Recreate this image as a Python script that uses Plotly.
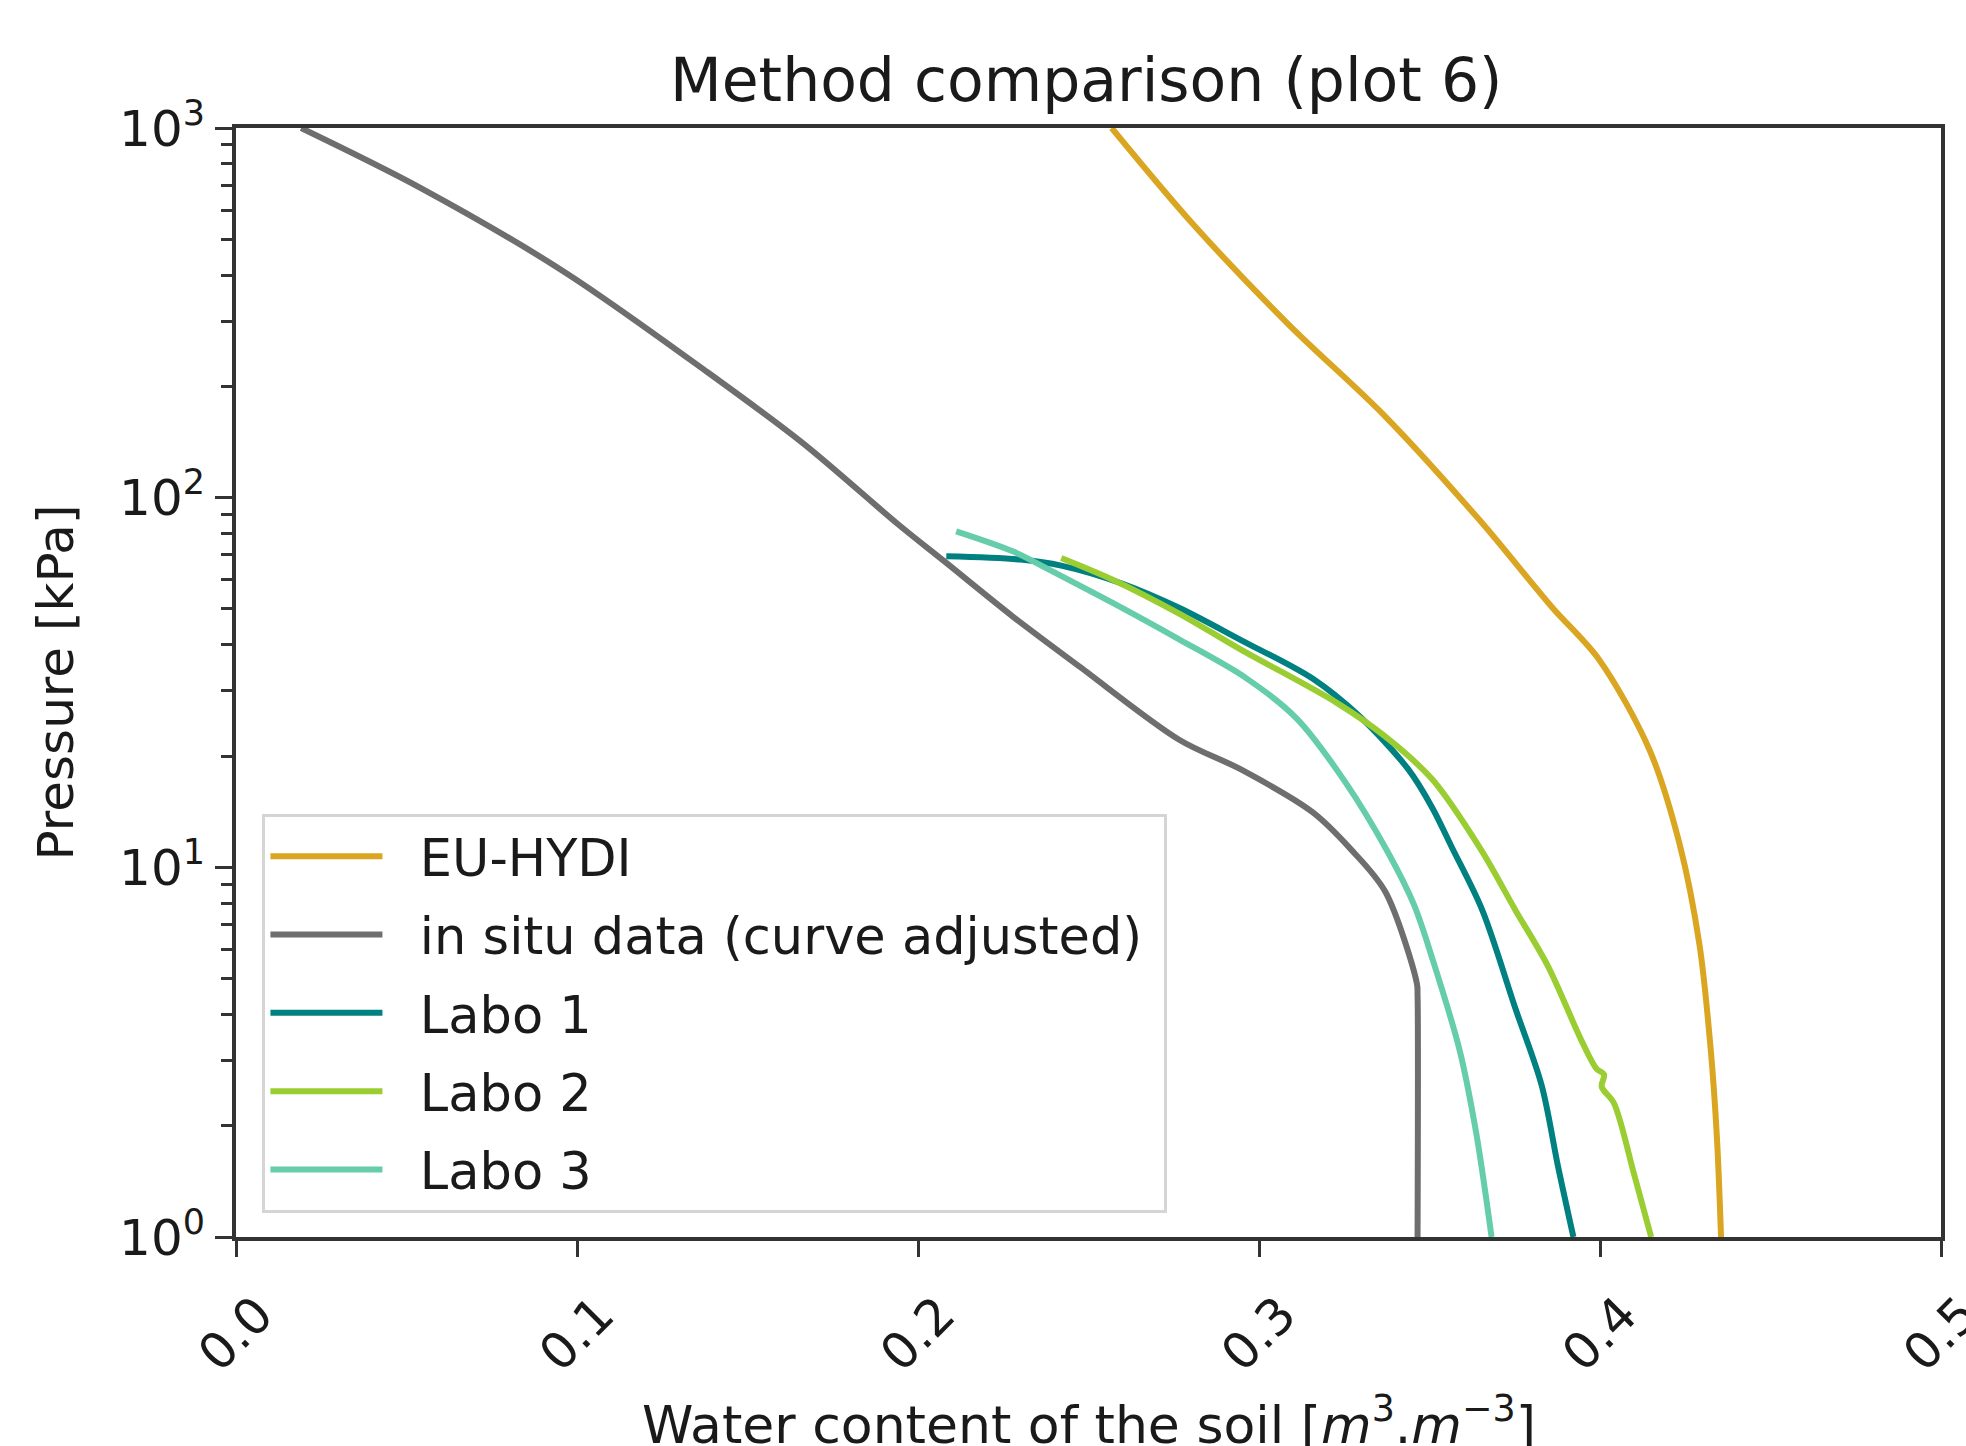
import plotly.graph_objects as go

# Water retention curves: water content [m3/m3] vs suction pressure [kPa]
eu_hydi_theta = [0.2568, 0.2806, 0.3087, 0.3367, 0.3648, 0.3858, 0.3998, 0.4145, 0.4233, 0.4292, 0.4325, 0.4343, 0.4355]
eu_hydi_kpa = [1000, 550, 294, 167, 86.7, 50.7, 36.4, 20.8, 11.6, 6.15, 3.19, 1.85, 1.0]

insitu_theta = [0.0191, 0.0542, 0.0963, 0.1384, 0.1664, 0.1945, 0.2083, 0.2278, 0.2474, 0.2767, 0.2947, 0.3157, 0.3269, 0.3370, 0.3463, 0.3465, 0.3465]
insitu_kpa = [1000, 688, 408, 218, 140, 84.2, 66.6, 47.7, 34.9, 22.1, 18.4, 14.1, 11.2, 8.6, 4.85, 4.5, 1.0]

labo1_theta = [0.2083, 0.2300, 0.2420, 0.2600, 0.2767, 0.2947, 0.3157, 0.3297, 0.3438, 0.3508, 0.3564, 0.3655, 0.3752, 0.3829, 0.3877, 0.3922]
labo1_kpa = [69.4, 68.0, 65.5, 58.5, 50.3, 41.2, 32.4, 25.5, 18.4, 14.5, 11.4, 7.65, 4.15, 2.57, 1.55, 1.0]

labo2_theta = [0.2420, 0.2571, 0.2767, 0.2947, 0.3227, 0.3367, 0.3508, 0.3650, 0.3752, 0.3848, 0.3945, 0.3990, 0.4012, 0.4005, 0.4041, 0.4099, 0.4150]
labo2_kpa = [68.7, 60.0, 48.5, 38.8, 27.9, 22.7, 17.3, 11.2, 7.66, 5.39, 3.41, 2.85, 2.75, 2.55, 2.30, 1.49, 1.0]

labo3_theta = [0.2112, 0.2278, 0.2376, 0.2571, 0.2767, 0.2960, 0.3110, 0.3255, 0.3380, 0.3455, 0.3510, 0.3588, 0.3637, 0.3682]
labo3_kpa = [81.1, 71.6, 64.5, 51.9, 41.3, 32.6, 25.3, 16.9, 10.9, 7.9, 5.6, 3.21, 1.91, 1.0]

series_names = ["EU-HYDI", "in situ data (curve adjusted)", "Labo 1", "Labo 2", "Labo 3"]
series_colors = ["#DAA520", "#6E6E6E", "#008080", "#9ACD32", "#66CDAA"]

y_tick_vals = [1, 10, 100, 1000]
y_tick_text = ["10<sup>0</sup>", "10<sup>1</sup>", "10<sup>2</sup>", "10<sup>3</sup>"]
y_minor_vals = [m * 10 ** k for k in range(3) for m in range(2, 10)]
x_tick_vals = [0.0, 0.1, 0.2, 0.3, 0.4, 0.5]
x_tick_text = ["0.0", "0.1", "0.2", "0.3", "0.4", "0.5"]

x_title = "Water content of the soil [<i>m</i><sup>3</sup>.<i>m</i><sup>\u22123</sup>]"
y_title = "Pressure [kPa]"
chart_title = "Method comparison (plot 6)"

series_x = [eu_hydi_theta, insitu_theta, labo1_theta, labo2_theta, labo3_theta]
series_y = [eu_hydi_kpa, insitu_kpa, labo1_kpa, labo2_kpa, labo3_kpa]

FONT = "DejaVu Sans"
AXIS_COLOR = "#333333"
TEXT_COLOR = "#1A1A1A"
PAD = "\u00a0\u00a0"  # gap between legend line sample and label

fig = go.Figure()
for name, color, xs, ys in zip(series_names, series_colors, series_x, series_y):
    fig.add_trace(go.Scatter(
        x=xs, y=ys, mode="lines", name=PAD + name + "\u00a0", legendgroup=name,
        line=dict(color=color, width=6, shape="spline", smoothing=0.9),
    ))

fig.update_layout(
    width=1966, height=1446,
    margin=dict(l=236, r=25, t=128, b=209, autoexpand=False),
    paper_bgcolor="white", plot_bgcolor="white",
    font=dict(family=FONT, size=50, color=TEXT_COLOR),
    title=dict(text=chart_title, x=0.5525, xanchor="center",
               y=0.945, yanchor="middle", font=dict(size=60, family=FONT, color=TEXT_COLOR)),
    showlegend=True,
    legend=dict(
        x=0.0155, y=0.022, xanchor="left", yanchor="bottom",
        bgcolor="rgba(255,255,255,0.8)", bordercolor="#D5D5D5", borderwidth=3,
        font=dict(size=51, family=FONT, color=TEXT_COLOR),
        itemwidth=112, tracegroupgap=9,
    ),
)

# x-axis title sits low, partly running off the bottom edge
fig.add_annotation(
    text=x_title, xref="paper", yref="paper", x=0.5, y=0,
    xanchor="center", yanchor="middle", yshift=-184, showarrow=False,
    font=dict(size=52, family=FONT, color=TEXT_COLOR),
)

fig.update_xaxes(
    range=[0, 0.5], tickmode="array", tickvals=x_tick_vals, ticktext=x_tick_text,
    tickangle=-45, ticks="outside", ticklen=16, tickwidth=3, tickcolor=AXIS_COLOR,
    ticklabelshift=22, ticklabelstandoff=8, ticklabeloverflow="allow",
    showline=True, linecolor=AXIS_COLOR, linewidth=4, mirror=True,
    showgrid=False, zeroline=False, automargin=False,
)

fig.update_yaxes(
    type="log", range=[0, 3], tickmode="array", tickvals=y_tick_vals, ticktext=y_tick_text,
    ticks="outside", ticklen=17, tickwidth=3, tickcolor=AXIS_COLOR,
    minor=dict(tickmode="array", tickvals=y_minor_vals, ticks="outside", ticklen=11,
               tickwidth=2.5, tickcolor=AXIS_COLOR, showgrid=False),
    showline=True, linecolor=AXIS_COLOR, linewidth=4, mirror=True,
    showgrid=False, zeroline=False, automargin=False,
    title=dict(text=y_title, font=dict(size=50, family=FONT, color=TEXT_COLOR), standoff=31),
)

fig.write_html("out.html")
